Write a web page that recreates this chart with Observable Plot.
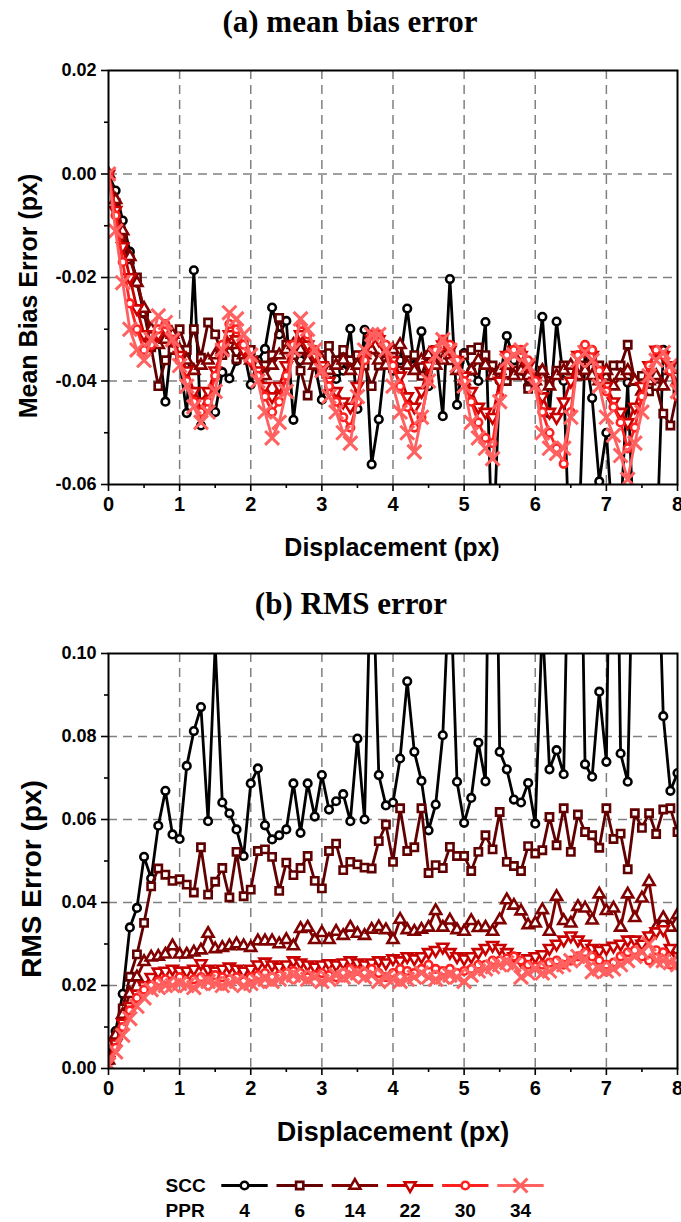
<!DOCTYPE html>
<html><head><meta charset="utf-8">
<script src="https://cdn.jsdelivr.net/npm/d3@7"></script>
<script src="https://cdn.jsdelivr.net/npm/@observablehq/plot@0.6"></script>
<style>
body{margin:0;background:#fff;}
#wrap{position:relative;width:681px;height:1222px;overflow:hidden;background:#fff;}
.abs{position:absolute;}
.title{font-family:"Liberation Serif","Times New Roman",serif;font-weight:bold;font-size:31px;line-height:1;white-space:nowrap;transform:translate(-50%,-50%);}
.lab{font-family:"Liberation Sans",Arial,sans-serif;font-weight:bold;line-height:1;white-space:nowrap;}
</style></head><body><div id="wrap"></div>
<script>
const disp = [0,0.1,0.2,0.3,0.4,0.5,0.6,0.7,0.8,0.9,1,1.1,1.2,1.3,1.4,1.5,1.6,1.7,1.8,1.9,2,2.1,2.2,2.3,2.4,2.5,2.6,2.7,2.8,2.9,3,3.1,3.2,3.3,3.4,3.5,3.6,3.7,3.8,3.9,4,4.1,4.2,4.3,4.4,4.5,4.6,4.7,4.8,4.9,5,5.1,5.2,5.3,5.4,5.5,5.6,5.7,5.8,5.9,6,6.1,6.2,6.3,6.4,6.5,6.6,6.7,6.8,6.9,7,7.1,7.2,7.3,7.4,7.5,7.6,7.7,7.8,7.9,8];

const seriesNames = ["SCC","4","6","14","22","30","34"];
const pprLabels = ["4","6","14","22","30","34"];
const colors = ["#000000","#600000","#800000","#c80000","#ff2020","#ff6060"];

// (a) mean bias error
const mbeSCC = [0.000,-0.0032,-0.009,-0.015,-0.021,-0.027,-0.031,-0.032,-0.044,-0.031,
-0.036,-0.0462,-0.0186,-0.0486,-0.045,-0.046,-0.0383,-0.0395,-0.0361,-0.034,
-0.0407,-0.036,-0.0338,-0.0258,-0.031,-0.0284,-0.0475,-0.036,-0.034,-0.037,
-0.0436,-0.040,-0.0396,-0.038,-0.0299,-0.0454,-0.0301,-0.0561,-0.0474,-0.035,
-0.038,-0.036,-0.026,-0.037,-0.0304,-0.041,-0.034,-0.0468,-0.0203,-0.0446,
-0.0346,-0.038,-0.040,-0.0286,-0.075,-0.040,-0.0313,-0.036,-0.038,-0.041,
-0.039,-0.0276,-0.0463,-0.0285,-0.040,-0.08,-0.075,-0.0344,-0.0433,-0.0594,
-0.050,-0.070,-0.066,-0.0403,-0.075,-0.08,-0.08,-0.075,-0.034,-0.0372,
-0.040];
const mbe6 = [0.000,-0.0056,-0.012,-0.0165,-0.020,-0.0268,-0.0335,-0.041,-0.036,-0.034,
-0.030,-0.034,-0.030,-0.0355,-0.0287,-0.031,-0.035,-0.033,-0.0358,-0.033,
-0.034,-0.037,-0.037,-0.035,-0.0278,-0.033,-0.035,-0.038,-0.0428,-0.036,
-0.035,-0.0332,-0.036,-0.034,-0.036,-0.035,-0.037,-0.041,-0.037,-0.036,
-0.035,-0.038,-0.036,-0.035,-0.039,-0.035,-0.034,-0.035,-0.036,-0.037,
-0.035,-0.034,-0.0335,-0.035,-0.037,-0.038,-0.040,-0.038,-0.037,-0.0415,
-0.040,-0.038,-0.040,-0.038,-0.037,-0.038,-0.039,-0.037,-0.036,-0.037,
-0.039,-0.037,-0.037,-0.033,-0.040,-0.039,-0.042,-0.041,-0.0463,-0.0486,
-0.042];
const mbe14 = [0.000,-0.005,-0.011,-0.016,-0.021,-0.026,-0.030,-0.033,-0.032,-0.031,
-0.034,-0.036,-0.038,-0.037,-0.036,-0.035,-0.034,-0.032,-0.033,-0.035,
-0.036,-0.037,-0.039,-0.037,-0.035,-0.034,-0.033,-0.034,-0.036,-0.037,
-0.036,-0.038,-0.037,-0.036,-0.038,-0.037,-0.035,-0.034,-0.036,-0.037,
-0.034,-0.033,-0.037,-0.038,-0.036,-0.035,-0.037,-0.036,-0.035,-0.038,
-0.040,-0.038,-0.036,-0.037,-0.039,-0.038,-0.037,-0.039,-0.038,-0.039,
-0.040,-0.038,-0.041,-0.039,-0.038,-0.037,-0.039,-0.038,-0.039,-0.040,
-0.038,-0.041,-0.039,-0.038,-0.040,-0.042,-0.040,-0.039,-0.041,-0.038,
-0.040];
const mbe22 = [0.000,-0.007,-0.014,-0.020,-0.026,-0.031,-0.033,-0.031,-0.030,-0.032,
-0.035,-0.038,-0.042,-0.044,-0.042,-0.038,-0.034,-0.031,-0.032,-0.034,
-0.036,-0.038,-0.041,-0.043,-0.041,-0.037,-0.033,-0.031,-0.033,-0.035,
-0.037,-0.040,-0.042,-0.044,-0.045,-0.041,-0.035,-0.032,-0.032,-0.034,
-0.036,-0.039,-0.043,-0.045,-0.042,-0.037,-0.034,-0.033,-0.034,-0.036,
-0.039,-0.042,-0.045,-0.046,-0.047,-0.040,-0.035,-0.034,-0.035,-0.037,
-0.040,-0.043,-0.046,-0.047,-0.044,-0.040,-0.035,-0.034,-0.035,-0.038,
-0.041,-0.044,-0.046,-0.048,-0.045,-0.041,-0.037,-0.034,-0.035,-0.037,
-0.039];
const mbe30 = [0.000,-0.008,-0.017,-0.025,-0.030,-0.034,-0.033,-0.030,-0.029,-0.032,
-0.036,-0.040,-0.044,-0.046,-0.044,-0.039,-0.033,-0.029,-0.030,-0.033,
-0.036,-0.039,-0.043,-0.046,-0.044,-0.039,-0.033,-0.029,-0.031,-0.034,
-0.038,-0.041,-0.044,-0.047,-0.049,-0.044,-0.036,-0.031,-0.031,-0.033,
-0.037,-0.041,-0.045,-0.049,-0.047,-0.040,-0.034,-0.032,-0.033,-0.036,
-0.040,-0.044,-0.048,-0.051,-0.052,-0.043,-0.035,-0.034,-0.034,-0.036,
-0.040,-0.046,-0.050,-0.053,-0.056,-0.046,-0.035,-0.033,-0.034,-0.038,
-0.042,-0.045,-0.048,-0.053,-0.049,-0.043,-0.037,-0.034,-0.035,-0.038,
-0.043];
const mbe34 = [0.000,-0.011,-0.021,-0.030,-0.034,-0.036,-0.032,-0.0274,-0.0287,-0.032,
-0.037,-0.041,-0.045,-0.048,-0.046,-0.042,-0.034,-0.0268,-0.028,-0.031,
-0.035,-0.040,-0.046,-0.051,-0.048,-0.042,-0.034,-0.028,-0.030,-0.034,
-0.038,-0.043,-0.046,-0.050,-0.052,-0.043,-0.034,-0.031,-0.031,-0.034,
-0.041,-0.046,-0.050,-0.0537,-0.047,-0.040,-0.035,-0.032,-0.034,-0.037,
-0.041,-0.048,-0.051,-0.053,-0.055,-0.044,-0.036,-0.035,-0.034,-0.037,
-0.041,-0.050,-0.053,-0.054,-0.053,-0.047,-0.036,-0.0345,-0.036,-0.041,
-0.047,-0.0505,-0.0544,-0.059,-0.052,-0.046,-0.039,-0.036,-0.0345,-0.037,
-0.042];

// (b) RMS error
const rmsSCC = [0.003,0.009,0.018,0.034,0.0387,0.051,0.0458,0.0585,0.0669,0.0564,
0.0553,0.0729,0.0813,0.0871,0.0596,0.102,0.0641,0.0615,0.0576,0.0512,
0.0687,0.0723,0.0586,0.0552,0.0562,0.0576,0.0687,0.0568,0.0687,0.0607,
0.0707,0.0624,0.0644,0.0661,0.0596,0.0795,0.0600,0.13,0.0707,0.0634,
0.0641,0.0747,0.0933,0.0763,0.0693,0.0574,0.0636,0.0803,0.12,0.0691,
0.0592,0.0652,0.0785,0.0692,0.2,0.0763,0.0721,0.0648,0.0641,0.0688,
0.0590,0.108,0.0721,0.0767,0.0709,0.16,0.18,0.0733,0.0703,0.0908,
0.0739,0.2,0.0759,0.0691,0.15,0.2,0.18,0.14,0.0849,0.0669,
0.0712];
const rms6 = [0.002,0.0068,0.0145,0.0221,0.0275,0.0351,0.0439,0.0482,0.0467,0.0452,
0.0456,0.0443,0.0424,0.0533,0.0419,0.045,0.0483,0.0412,0.0522,0.0415,
0.0431,0.0524,0.0528,0.051,0.0428,0.0496,0.0466,0.0483,0.0512,0.0452,
0.0434,0.0524,0.0542,0.0478,0.0498,0.0492,0.0484,0.0482,0.0548,0.0588,
0.0498,0.0627,0.0524,0.0533,0.0627,0.0471,0.049,0.0483,0.0534,0.0512,
0.0512,0.0476,0.0522,0.0562,0.0528,0.0618,0.0498,0.0488,0.0476,0.0536,
0.0518,0.0526,0.0606,0.0538,0.0627,0.0522,0.0612,0.057,0.0562,0.0532,
0.0627,0.0553,0.0566,0.048,0.0615,0.058,0.0615,0.0565,0.0624,0.0627,
0.057];
const rms14 = [0.002,0.008,0.013,0.018,0.022,0.0257,0.0268,0.027,0.0275,0.0295,
0.0275,0.0275,0.028,0.0285,0.0325,0.0288,0.0291,0.0295,0.030,0.0295,
0.0291,0.0307,0.0307,0.0307,0.030,0.031,0.0295,0.0337,0.034,0.031,
0.0327,0.031,0.033,0.032,0.034,0.0325,0.032,0.0335,0.0341,0.0334,
0.031,0.0359,0.0334,0.033,0.0335,0.034,0.038,0.034,0.0357,0.0334,
0.033,0.0356,0.0339,0.034,0.033,0.0358,0.0406,0.0393,0.0379,0.0346,
0.035,0.0382,0.033,0.0414,0.0356,0.035,0.039,0.0386,0.0357,0.042,
0.038,0.0386,0.034,0.042,0.0363,0.041,0.045,0.034,0.0363,0.034,
0.037];
const rms22 = [0.002,0.006,0.011,0.015,0.018,0.020,0.022,0.0233,0.0235,0.024,
0.0235,0.0235,0.024,0.0253,0.024,0.0235,0.024,0.0245,0.024,0.0235,
0.024,0.025,0.0257,0.025,0.0245,0.025,0.026,0.0255,0.025,0.0245,
0.025,0.0253,0.025,0.0255,0.026,0.0255,0.025,0.0255,0.026,0.0255,
0.0265,0.026,0.027,0.0265,0.027,0.028,0.0285,0.0293,0.028,0.027,
0.0265,0.027,0.028,0.029,0.0297,0.029,0.028,0.027,0.026,0.0265,
0.027,0.0275,0.029,0.030,0.031,0.032,0.031,0.030,0.029,0.0285,
0.029,0.0295,0.030,0.031,0.031,0.030,0.032,0.033,0.0335,0.029,
0.027];
const rms30 = [0.002,0.005,0.010,0.014,0.017,0.019,0.020,0.021,0.0215,0.021,
0.022,0.021,0.0215,0.022,0.0215,0.0225,0.022,0.0215,0.022,0.021,
0.022,0.0225,0.023,0.022,0.0225,0.023,0.0235,0.023,0.022,0.0225,
0.023,0.0225,0.022,0.023,0.024,0.0235,0.023,0.024,0.023,0.022,
0.023,0.024,0.0235,0.023,0.024,0.025,0.024,0.0235,0.024,0.023,
0.0235,0.024,0.025,0.025,0.026,0.026,0.0265,0.027,0.026,0.025,
0.0245,0.025,0.0255,0.026,0.025,0.026,0.027,0.028,0.027,0.026,
0.025,0.0255,0.027,0.028,0.0285,0.027,0.026,0.0285,0.028,0.025,
0.026];
const rms34 = [0.001,0.004,0.008,0.012,0.015,0.017,0.019,0.0195,0.020,0.020,
0.0205,0.020,0.0195,0.0205,0.021,0.0205,0.020,0.0205,0.021,0.020,
0.0205,0.021,0.0215,0.021,0.0215,0.022,0.0225,0.022,0.0215,0.022,
0.021,0.0215,0.0225,0.022,0.0225,0.023,0.022,0.0225,0.021,0.022,
0.0215,0.021,0.0215,0.022,0.023,0.022,0.0215,0.022,0.0225,0.022,
0.021,0.0225,0.0235,0.024,0.0245,0.025,0.0255,0.025,0.022,0.023,
0.024,0.023,0.0235,0.0245,0.025,0.026,0.027,0.0265,0.0233,0.024,
0.0235,0.024,0.025,0.026,0.027,0.028,0.030,0.026,0.026,0.0255,
0.025];

const xMajor = [0,1,2,3,4,5,6,7,8];
const xMinor = [0.5,1.5,2.5,3.5,4.5,5.5,6.5,7.5];
const xGrid = [1,2,3,4,5,6,7];
const mbeMajor = [-0.06,-0.04,-0.02,0.00,0.02];
const mbeMinor = [-0.05,-0.03,-0.01,0.01];
const mbeGrid = [-0.04,-0.02,0.00];
const rmsMajor = [0.00,0.02,0.04,0.06,0.08,0.10];
const rmsMinor = [0.01,0.03,0.05,0.07,0.09];
const rmsGrid = [0.02,0.04,0.06,0.08];

const invTriangle = {
  draw(context, size) {
    const s3 = Math.sqrt(3);
    const y = -Math.sqrt(size / (s3 * 3));
    context.moveTo(0, -y * 2);
    context.lineTo(-s3 * y, y);
    context.lineTo(s3 * y, y);
    context.closePath();
  }
};
const symbols = ["circle","square","triangle",invTriangle,"circle","times"];
const radii = [3.8,4.1,4.1,4.1,3.8,6.4];

function seriesMarks(list) {
  const marks = [];
  list.forEach((vals, i) => {
    const data = disp.map((x, j) => ({x, y: vals[j]}));
    marks.push(Plot.line(data, {x: "x", y: "y", stroke: colors[i], strokeWidth: 2.8, clip: true}));
    marks.push(Plot.dot(data, {x: "x", y: "y", symbol: symbols[i], r: radii[i], stroke: colors[i],
      fill: symbols[i] === "times" ? "none" : "white", strokeWidth: symbols[i] === "times" ? 3 : 2.6, clip: true}));
  });
  return marks;
}

const fontStyle = {font: "bold 18px 'Liberation Sans', Arial, sans-serif", background: "white", overflow: "visible"};
const gridStyle = {stroke: "#808080", strokeOpacity: 1, strokeWidth: 1.5, strokeDasharray: "9,6"};

function panel(yDomain, major, minor, grid, series, h, mt, mb) {
  return Plot.plot({
    width: 681, height: h, marginLeft: 108, marginRight: 4, marginTop: mt, marginBottom: mb,
    x: {domain: [0, 8]},
    y: {domain: yDomain},
    style: fontStyle,
    marks: [
      Plot.gridX({ticks: xGrid, ...gridStyle}),
      Plot.gridY({ticks: grid, ...gridStyle}),
      ...seriesMarks(series),
      Plot.frame({stroke: "black", strokeWidth: 2}),
      Plot.axisX({ticks: xMajor, tickSize: 7, tickPadding: 5, fontSize: 20, label: null, tickFormat: d => String(d), strokeWidth: 1.6}),
      Plot.axisX({ticks: xMinor, tickSize: 4, label: null, tickFormat: () => "", strokeWidth: 1.6}),
      Plot.axisY({ticks: major, tickSize: 7, tickPadding: 5, fontSize: 18, label: null, tickFormat: d => d.toFixed(2), strokeWidth: 1.6}),
      Plot.axisY({ticks: minor, tickSize: 4, label: null, tickFormat: () => "", strokeWidth: 1.6})
    ]
  });
}

const wrap = document.getElementById("wrap");
function place(el, left, top) { el.classList.add("abs"); el.style.left = left + "px"; el.style.top = top + "px"; wrap.appendChild(el); return el; }
function text(cls, str, left, top, size, rotate) {
  const d = document.createElement("div");
  d.className = cls; d.textContent = str;
  if (size) d.style.fontSize = size + "px";
  d.style.transform = "translate(-50%,-50%)" + (rotate ? " rotate(-90deg)" : "");
  return place(d, left, top);
}

const top1 = panel([-0.06, 0.02], mbeMajor, mbeMinor, mbeGrid, [mbeSCC, mbe6, mbe14, mbe22, mbe30, mbe34], 570, 70, 86);
place(top1, 0, 0);
const top2 = panel([0, 0.10], rmsMajor, rmsMinor, rmsGrid, [rmsSCC, rms6, rms14, rms22, rms30, rms34], 570, 73, 82);
place(top2, 0, 580);

text("title", "(a) mean bias error", 350, 21);
text("title", "(b) RMS error", 351, 603);
text("lab", "Mean Bias Error (px)", 28, 296, 25, true);
text("lab", "Displacement (px)", 392, 547, 25);
text("lab", "RMS Error (px)", 32, 879, 28, true);
text("lab", "Displacement (px)", 393, 1132, 27);

// legend
const idx = [0,1,2,3,4,5];
const legMarks = [];
idx.forEach(i => {
  legMarks.push(Plot.link([i], {x1: d => d - 0.42, x2: d => d + 0.42, y1: () => 0, y2: () => 0, stroke: colors[i], strokeWidth: 2.8}));
  legMarks.push(Plot.dot([i], {x: d => d, y: () => 0, symbol: symbols[i], r: radii[i], stroke: colors[i],
    fill: symbols[i] === "times" ? "none" : "white", strokeWidth: symbols[i] === "times" ? 3 : 2.6}));
});
legMarks.push(Plot.text([seriesNames[0]], {x: () => -1.43, y: () => 0, text: d => d, textAnchor: "start", fontSize: 19, fontWeight: "bold"}));
legMarks.push(Plot.text(["PPR"], {x: () => -1.43, y: () => 1, text: d => d, textAnchor: "start", fontSize: 19, fontWeight: "bold"}));
legMarks.push(Plot.text(pprLabels, {x: (d, i) => i, y: () => 1, text: d => d, fontSize: 19, fontWeight: "bold"}));
const leg = Plot.plot({
  width: 681, height: 54, margin: 0,
  x: {domain: [0, 5], range: [244, 520], axis: null},
  y: {domain: [0, 1], range: [17, 42], axis: null},
  style: fontStyle,
  marks: legMarks
});
place(leg, 0, 1168);
</script></body></html>
